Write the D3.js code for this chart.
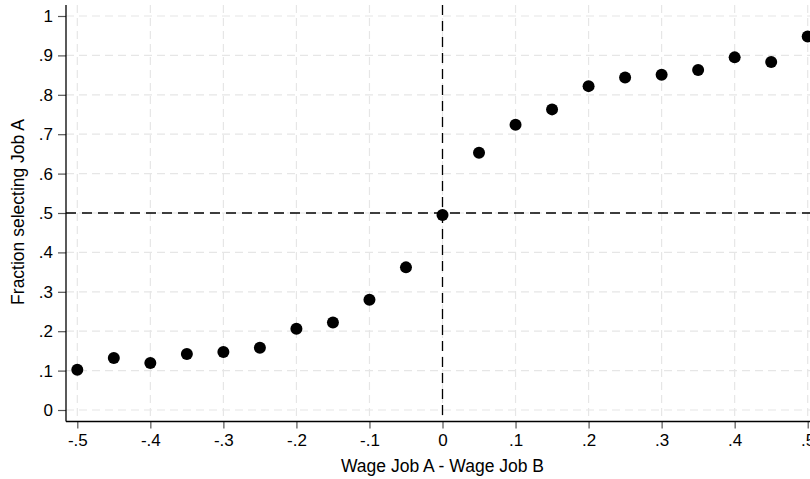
<!DOCTYPE html>
<html>
<head>
<meta charset="utf-8">
<script src="https://cdn.jsdelivr.net/npm/d3@7"></script>
<style>
  body { margin: 0; background: #fff; }
  text { font-family: "Liberation Sans", Arial, sans-serif; fill: #000; }
</style>
</head>
<body>
<div id="chart"></div>
<script>
var width = 810;
var height = 479;

// wage gap (x) and share choosing job A (y)
var wageDiff = [-0.5, -0.45, -0.4, -0.35, -0.3, -0.25, -0.2, -0.15, -0.1, -0.05, 0,
    0.05, 0.1, 0.15, 0.2, 0.25, 0.3, 0.35, 0.4, 0.45, 0.5];
var fracA = [0.102, 0.132, 0.119, 0.142, 0.147, 0.158, 0.206, 0.222, 0.280, 0.362, 0.495,
    0.653, 0.724, 0.763, 0.822, 0.844, 0.851, 0.863, 0.895, 0.883, 0.948];
var xTicks = [-0.5, -0.4, -0.3, -0.2, -0.1, 0, 0.1, 0.2, 0.3, 0.4, 0.5];
var yTicks = [0, 0.1, 0.2, 0.3, 0.4, 0.5, 0.6, 0.7, 0.8, 0.9, 1];

// stata style labels: .5, -.5, 0, 1
var fmt = function (v) {
    var s = Math.abs(v).toFixed(1);
    if (s === '0.0') return '0';
    if (s === '1.0') return '1';
    return (v < 0 ? '-' : '') + s.replace('0.', '.');
};

var x = d3.scaleLinear().domain([-0.5, 0.5]).range([77.3, 807.7]);
var y = d3.scaleLinear().domain([0, 1]).range([410, 16]);

var axisX = 66, axisY = 421.5;

var svg = d3.select('#chart').append('svg')
    .attr('width', width)
    .attr('height', height);

// grid
svg.append('g').selectAll('line.hgrid')
    .data(yTicks)
    .enter().append('line')
    .attr('class', 'hgrid')
    .attr('x1', axisX).attr('x2', width)
    .attr('y1', function (d) { return y(d); })
    .attr('y2', function (d) { return y(d); })
    .attr('stroke', '#e6e6e6')
    .attr('stroke-width', 1.2)
    .attr('stroke-dasharray', '8,5');

svg.append('g').selectAll('line.vgrid')
    .data(xTicks)
    .enter().append('line')
    .attr('class', 'vgrid')
    .attr('y1', 5).attr('y2', axisY)
    .attr('x1', function (d) { return x(d); })
    .attr('x2', function (d) { return x(d); })
    .attr('stroke', '#e6e6e6')
    .attr('stroke-width', 1.2)
    .attr('stroke-dasharray', '8,5');

// reference lines
svg.append('line')
    .attr('x1', axisX).attr('x2', width)
    .attr('y1', y(0.5)).attr('y2', y(0.5))
    .attr('stroke', '#000')
    .attr('stroke-width', 1.3)
    .attr('stroke-dasharray', '10,6');

svg.append('line')
    .attr('x1', x(0)).attr('x2', x(0))
    .attr('y1', 5).attr('y2', axisY)
    .attr('stroke', '#000')
    .attr('stroke-width', 1.3)
    .attr('stroke-dasharray', '10,6');

// axes
var yAxis = d3.axisLeft(y).tickValues(yTicks).tickFormat(fmt).tickSizeOuter(0).tickSize(8).tickPadding(5);
var xAxis = d3.axisBottom(x).tickValues(xTicks).tickFormat(fmt).tickSizeOuter(0).tickSize(7).tickPadding(5);

var gy = svg.append('g')
    .attr('transform', 'translate(' + axisX + ',0)')
    .call(yAxis);
gy.select('.domain').remove();
gy.append('line').attr('x1', 0).attr('x2', 0).attr('y1', 5).attr('y2', axisY)
    .attr('stroke', '#000').attr('stroke-width', 1.3);

var gx = svg.append('g')
    .attr('transform', 'translate(0,' + axisY + ')')
    .call(xAxis);
gx.select('.domain').remove();
gx.append('line').attr('x1', axisX).attr('x2', width).attr('y1', 0).attr('y2', 0)
    .attr('stroke', '#000').attr('stroke-width', 1.3);

svg.selectAll('.tick line').attr('stroke', '#555').attr('stroke-width', 1.2);
svg.selectAll('.tick text').style('font-size', '17px')
    .style('font-family', '"Liberation Sans", Arial, sans-serif').attr('fill', '#000');

// points
svg.append('g').selectAll('circle')
    .data(wageDiff)
    .enter().append('circle')
    .attr('cx', function (d) { return x(d); })
    .attr('cy', function (d, i) { return y(fracA[i]); })
    .attr('r', 6)
    .attr('fill', '#000');

// titles
svg.append('text')
    .attr('x', x(0))
    .attr('y', 472)
    .attr('text-anchor', 'middle')
    .style('font-size', '17.5px')
    .text('Wage Job A - Wage Job B');

svg.append('text')
    .attr('transform', 'translate(24,' + (y(0.5) - 1) + ') rotate(-90)')
    .attr('text-anchor', 'middle')
    .style('font-size', '17.5px')
    .text('Fraction selecting Job A');
</script>
</body>
</html>
